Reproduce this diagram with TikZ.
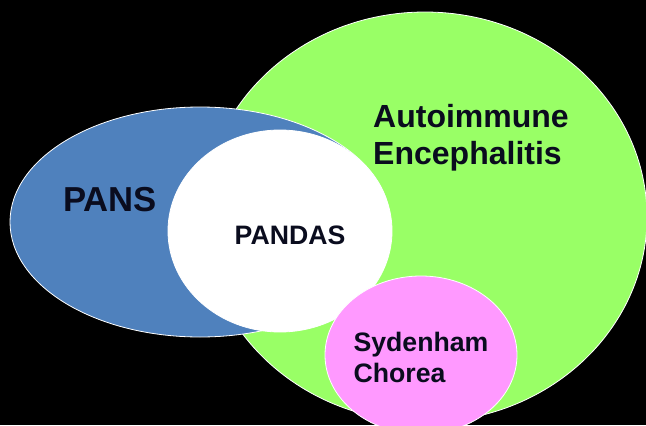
\documentclass[tikz,border=0pt]{standalone}
\usepackage{fontspec}
\setmainfont{Liberation Sans}
\usepackage{tikz}

\definecolor{greenfill}{RGB}{153,255,102}
\definecolor{bluefill}{RGB}{79,129,189}
\definecolor{pinkfill}{RGB}{255,153,255}
\definecolor{labelink}{RGB}{10,12,30}

\tikzset{
  venn/.style={draw=white, line width=0.6},
  vennlabel/.style={text=labelink, font=\bfseries, align=left, inner sep=0}
}

\begin{document}
\begin{tikzpicture}[x=0.75pt,y=0.75pt,yscale=-1,xscale=1]
%set diagram at 646 x 425
\fill[black] (0,0) rectangle (646,425);
\useasboundingbox (0,0) rectangle (646,425);

%Shape: Ellipse [autoimmune]
\fill[greenfill, venn] (425,217) ellipse [x radius=222, y radius=205];
%Shape: Ellipse [pans]
\fill[bluefill, venn] (200,222) ellipse [x radius=190, y radius=115];
%Shape: Ellipse [pandas]
\fill[white, venn] (280,231) ellipse [x radius=112, y radius=101];
%Shape: Ellipse [sydenham]
\fill[pinkfill, venn] (421,355) ellipse [x radius=96, y radius=79];

% Text Node
\node[vennlabel, font=\bfseries\fontsize{24}{27.75}\selectfont] (autoimmune) at (471,138) {Autoimmune\\Encephalitis};
% Text Node
\node[vennlabel, font=\bfseries\fontsize{26}{30}\selectfont] (pans) at (110,200) {PANS};
% Text Node
\node[vennlabel, font=\bfseries\fontsize{20}{24}\selectfont] (pandas) at (290,235) {PANDAS};
% Text Node
\node[vennlabel, font=\bfseries\fontsize{20}{23.25}\selectfont] (sydenham) at (421,357) {Sydenham\\Chorea};

\end{tikzpicture}
\end{document}
